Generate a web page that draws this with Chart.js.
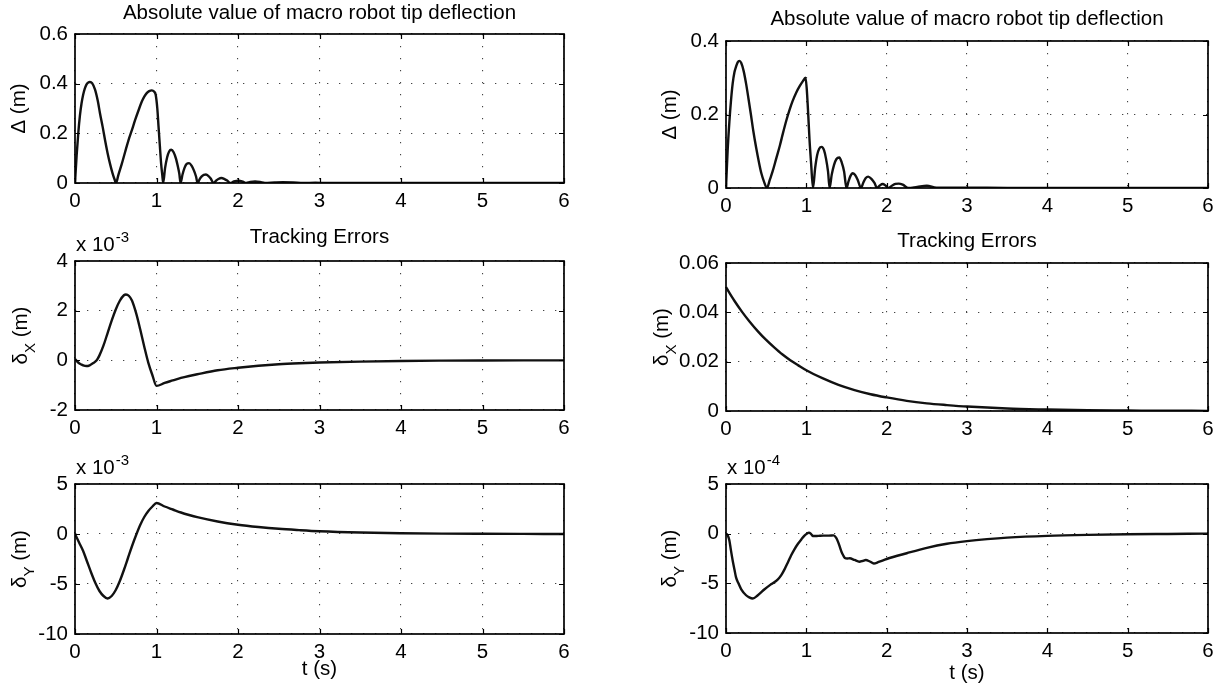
<!DOCTYPE html>
<html>
<head>
<meta charset="utf-8">
<script src="https://cdn.jsdelivr.net/npm/chart.js@4.4.1/dist/chart.umd.min.js"></script>
<style>
  body { margin: 0; background: #fff; width: 1227px; height: 693px; overflow: hidden; position: relative; }
  canvas { position: absolute; }
</style>
</head>
<body>
<canvas id="p1"></canvas>
<canvas id="p2"></canvas>
<canvas id="p3"></canvas>
<canvas id="p4"></canvas>
<canvas id="p5"></canvas>
<canvas id="p6"></canvas>
<script>
// ---- data (time in s, values in m) ----
const xTicks = [0, 1, 2, 3, 4, 5, 6];

// left column, top: |deflection|
const tDeflL = [0, 0.02, 0.04, 0.06, 0.08, 0.1, 0.12, 0.14, 0.16, 0.184, 0.21, 0.246, 0.28, 0.307, 0.34, 0.369, 0.4, 0.43, 0.46, 0.485, 0.504,
  0.53, 0.574, 0.615, 0.656, 0.7, 0.738, 0.78, 0.82, 0.85, 0.88, 0.91, 0.943, 0.97, 0.99, 1.01, 1.025, 1.04, 1.057, 1.07, 1.082,
  1.105, 1.13, 1.155, 1.18, 1.21, 1.24, 1.265, 1.28, 1.295,
  1.32, 1.345, 1.37, 1.4, 1.43, 1.46, 1.485, 1.504,
  1.53, 1.555, 1.58, 1.607, 1.635, 1.665, 1.7,
  1.73, 1.76, 1.795, 1.83, 1.87, 1.906,
  1.95, 2.01, 2.06, 2.1, 2.15, 2.21, 2.27, 2.33,
  2.45, 2.55, 2.68, 2.8, 2.95, 3.1, 3.5, 4, 5, 6];
const deflL = [0, 0.11, 0.2, 0.27, 0.32, 0.355, 0.38, 0.396, 0.404, 0.407, 0.402, 0.376, 0.33, 0.28, 0.225, 0.172, 0.12, 0.077, 0.04, 0.015, 0,
  0.03, 0.077, 0.125, 0.172, 0.215, 0.254, 0.293, 0.328, 0.348, 0.362, 0.37, 0.373, 0.368, 0.355, 0.3, 0.227, 0.155, 0.077, 0.035, 0,
  0.06, 0.103, 0.127, 0.134, 0.124, 0.097, 0.062, 0.037, 0,
  0.035, 0.062, 0.077, 0.08, 0.07, 0.05, 0.026, 0,
  0.016, 0.027, 0.033, 0.034, 0.029, 0.018, 0,
  0.009, 0.016, 0.02, 0.017, 0.009, 0,
  0.006, 0.009, 0.005, 0, 0.004, 0.006, 0.004, 0,
  0.002, 0.003, 0.002, 0, 0.001, 0, 0.0005, 0, 0, 0];
const deflTicksL = [0, 0.2, 0.4, 0.6];

// left column, middle: x tracking error
const tDxL = [0, 0.05, 0.1, 0.14, 0.18, 0.22, 0.266, 0.3, 0.35, 0.4, 0.45, 0.5, 0.55, 0.6, 0.625, 0.66, 0.7, 0.75, 0.8, 0.85, 0.9, 0.95, 1.0,
  1.1, 1.2, 1.3, 1.4, 1.5, 1.75, 2.0, 2.25, 2.5, 2.75, 3.0, 3.5, 4.0, 4.5, 5.0, 5.5, 6.0];
const dxL = [0.05e-3, -0.12e-3, -0.2e-3, -0.23e-3, -0.2e-3, -0.12e-3, 0, 0.2e-3, 0.6e-3, 1.1e-3, 1.6e-3, 2.05e-3, 2.4e-3, 2.62e-3, 2.65e-3, 2.6e-3, 2.4e-3, 1.9e-3, 1.25e-3, 0.55e-3, -0.1e-3, -0.6e-3, -1.03e-3,
  -0.91e-3, -0.81e-3, -0.71e-3, -0.63e-3, -0.56e-3, -0.4e-3, -0.3e-3, -0.22e-3, -0.16e-3, -0.12e-3, -0.09e-3, -0.05e-3, -0.025e-3, -0.012e-3, -0.005e-3, -0.002e-3, 0];
const dxTicksL = [-2e-3, 0, 2e-3, 4e-3];

// left column, bottom: y tracking error
const tDyL = [0, 0.05, 0.1, 0.15, 0.2, 0.25, 0.3, 0.35, 0.4, 0.45, 0.5, 0.55, 0.6, 0.65, 0.7, 0.75, 0.8, 0.85, 0.9, 0.95, 1.0,
  1.1, 1.2, 1.3, 1.4, 1.5, 1.75, 2.0, 2.25, 2.5, 2.75, 3.0, 3.5, 4.0, 4.5, 5.0, 5.5, 6.0];
const dyL = [0, -0.85e-3, -1.7e-3, -2.8e-3, -3.9e-3, -4.9e-3, -5.7e-3, -6.2e-3, -6.45e-3, -6.2e-3, -5.6e-3, -4.7e-3, -3.6e-3, -2.4e-3, -1.2e-3, -0.1e-3, 0.9e-3, 1.7e-3, 2.3e-3, 2.75e-3, 3.1e-3,
  2.75e-3, 2.45e-3, 2.15e-3, 1.9e-3, 1.68e-3, 1.25e-3, 0.93e-3, 0.7e-3, 0.52e-3, 0.39e-3, 0.28e-3, 0.15e-3, 0.08e-3, 0.04e-3, 0.02e-3, 0.01e-3, 0];
const dyTicksL = [-10e-3, -5e-3, 0, 5e-3];

// right column, top: |deflection|
const tDeflR = [0, 0.02, 0.042, 0.063, 0.083, 0.105, 0.125, 0.145, 0.167, 0.19, 0.22, 0.25, 0.28, 0.31, 0.34, 0.375, 0.41, 0.44, 0.475, 0.51,
  0.545, 0.58, 0.625, 0.67, 0.71, 0.75, 0.79, 0.83, 0.875, 0.917, 0.955, 0.99, 1.005, 1.02, 1.04, 1.06, 1.083,
  1.11, 1.135, 1.16, 1.19, 1.22, 1.245, 1.27, 1.29,
  1.315, 1.345, 1.375, 1.41, 1.44, 1.47, 1.5,
  1.525, 1.55, 1.575, 1.605, 1.64, 1.68,
  1.71, 1.74, 1.77, 1.81, 1.85, 1.88,
  1.915, 1.95, 1.985, 2.02, 2.07, 2.11, 2.15, 2.2, 2.27,
  2.38, 2.5, 2.62, 2.75, 3, 3.5, 4, 5, 6];
const deflR = [0, 0.1, 0.18, 0.24, 0.284, 0.315, 0.33, 0.342, 0.346, 0.34, 0.318, 0.284, 0.243, 0.2, 0.155, 0.11, 0.07, 0.04, 0.016, 0,
  0.022, 0.045, 0.08, 0.115, 0.15, 0.183, 0.212, 0.237, 0.26, 0.277, 0.29, 0.3, 0.27, 0.215, 0.13, 0.065, 0,
  0.055, 0.09, 0.107, 0.112, 0.103, 0.08, 0.045, 0,
  0.035, 0.063, 0.079, 0.083, 0.07, 0.045, 0,
  0.018, 0.033, 0.04, 0.036, 0.022, 0,
  0.015, 0.027, 0.031, 0.025, 0.013, 0,
  0.007, 0.011, 0.007, 0, 0.007, 0.011, 0.012, 0.009, 0,
  0.003, 0.006, 0.001, 0.001, 0.001, 0, 0, 0, 0];
const deflTicksR = [0, 0.2, 0.4];

// right column, middle: x tracking error
const tDxR = [0, 0.1, 0.2, 0.3, 0.4, 0.5, 0.6, 0.7, 0.8, 0.9, 1.0, 1.2, 1.4, 1.6, 1.8, 2.0, 2.25, 2.5, 2.75, 3.0, 3.5, 4.0, 4.5, 5.0, 5.5, 6.0];
const dxR = [0.0502, 0.0449, 0.0402, 0.036, 0.0322, 0.0288, 0.0258, 0.023, 0.0206, 0.0185, 0.0165, 0.0133, 0.0106, 0.0085, 0.0068, 0.0055, 0.0041, 0.0031, 0.0024, 0.0018, 0.001, 0.0006, 0.0003, 0.0002, 0.0001, 0.00006];
const dxTicksR = [0, 0.02, 0.04, 0.06];

// right column, bottom: y tracking error
const tDyR = [0, 0.02, 0.042, 0.06, 0.083, 0.105, 0.125, 0.155, 0.19, 0.25, 0.29, 0.333, 0.396, 0.48, 0.56, 0.646, 0.69, 0.73, 0.77, 0.81, 0.85, 0.896, 0.94, 0.98, 1.01, 1.033, 1.06, 1.083,
  1.15, 1.21, 1.28, 1.34, 1.37, 1.396, 1.42, 1.44, 1.46, 1.48, 1.51, 1.54, 1.6, 1.66, 1.7, 1.74, 1.79, 1.84, 1.9, 2.0,
  2.25, 2.5, 2.75, 3.0, 3.25, 3.5, 4.0, 4.5, 5.0, 5.5, 6.0];
const dyR = [0, -0.15e-4, -0.68e-4, -1.6e-4, -2.7e-4, -3.6e-4, -4.4e-4, -5.0e-4, -5.6e-4, -6.2e-4, -6.42e-4, -6.53e-4, -6.2e-4, -5.6e-4, -5.1e-4, -4.6e-4, -4.15e-4, -3.57e-4, -2.9e-4, -2.2e-4, -1.6e-4, -1.02e-4, -0.55e-4, -0.17e-4, 0.02e-4, 0.1e-4, -0.05e-4, -0.24e-4,
  -0.22e-4, -0.2e-4, -0.2e-4, -0.17e-4, -0.4e-4, -0.85e-4, -1.4e-4, -1.87e-4, -2.2e-4, -2.45e-4, -2.5e-4, -2.48e-4, -2.65e-4, -2.82e-4, -2.75e-4, -2.65e-4, -2.8e-4, -3.0e-4, -2.85e-4, -2.55e-4,
  -1.97e-4, -1.43e-4, -1.02e-4, -0.75e-4, -0.55e-4, -0.4e-4, -0.22e-4, -0.12e-4, -0.06e-4, -0.03e-4, 0];
const dyTicksR = [-10e-4, -5e-4, 0, 5e-4];

// ---- layout: plot boxes in page pixels [left, top, right, bottom] ----
const panels = [
  { id: 'p1', t: tDeflL, v: deflL, yTicks: deflTicksL, unit: 1, box: [75, 34, 564, 183],
    title: 'Absolute value of macro robot tip deflection', titleY: 13, ylab: ['\u0394', '', ' (m)'], ylabX: 25 },
  { id: 'p2', t: tDxL, v: dxL, yTicks: dxTicksL, unit: 1e-3, expo: '-3', box: [75, 261, 564, 410],
    title: 'Tracking Errors', titleY: 237, ylab: ['\u03b4', 'X', ' (m)'], ylabX: 27 },
  { id: 'p3', t: tDyL, v: dyL, yTicks: dyTicksL, unit: 1e-3, expo: '-3', box: [75, 484, 564, 634],
    ylab: ['\u03b4', 'Y', ' (m)'], ylabX: 26, xlab: 'min', xlabY: 669 },
  { id: 'p4', t: tDeflR, v: deflR, yTicks: deflTicksR, unit: 1, box: [726, 41, 1208, 188],
    title: 'Absolute value of macro robot tip deflection', titleY: 19, ylab: ['\u0394', '', ' (m)'], ylabX: 676 },
  { id: 'p5', t: tDxR, v: dxR, yTicks: dxTicksR, unit: 1, box: [726, 263, 1208, 411],
    title: 'Tracking Errors', titleY: 241, ylab: ['\u03b4', 'X', ' (m)'], ylabX: 668 },
  { id: 'p6', t: tDyR, v: dyR, yTicks: dyTicksR, unit: 1e-4, expo: '-4', box: [726, 484, 1208, 633],
    ylab: ['\u03b4', 'Y', ' (m)'], ylabX: 676, xlab: 'min', xlabY: 673 }
];

const FONT = '"Liberation Sans", Arial, Helvetica, sans-serif';
const FS = 20.5;
const INK = '#000';
const PAD_L = 80, PAD_T = 45, PAD_R = 20, XAX_H = 32;

function fmt(v) { return String(+v.toFixed(3)); }

function framePlugin(p, cx, cy) {
  return {
    id: 'frame' + p.id,
    afterDatasetsDraw(chart) {
      const { ctx, chartArea: a, scales: { x, y } } = chart;
      ctx.save();
      ctx.strokeStyle = INK;
      ctx.lineWidth = 1.2;
      ctx.beginPath();
      x.ticks.forEach(tk => {
        const px = Math.round(x.getPixelForValue(tk.value)) + 0.5;
        ctx.moveTo(px, a.bottom); ctx.lineTo(px, a.bottom - 5);
        ctx.moveTo(px, a.top); ctx.lineTo(px, a.top + 5);
      });
      y.ticks.forEach(tk => {
        const py = Math.round(y.getPixelForValue(tk.value)) + 0.5;
        ctx.moveTo(a.left, py); ctx.lineTo(a.left + 5, py);
        ctx.moveTo(a.right, py); ctx.lineTo(a.right - 5, py);
      });
      ctx.stroke();
      ctx.lineWidth = 1.7;
      ctx.strokeRect(a.left, a.top, a.right - a.left, a.bottom - a.top);
      ctx.restore();
    },
    afterDraw(chart) {
      const { ctx } = chart;
      const [L, T, R, B] = p.box;
      const big = FS + 'px ' + FONT, small = '15px ' + FONT;
      ctx.save();
      ctx.fillStyle = INK;
      ctx.font = big;
      if (p.title) {
        ctx.textAlign = 'center'; ctx.textBaseline = 'middle';
        ctx.fillText(p.title, (L + R) / 2 - cx, p.titleY - cy);
      }
      if (p.expo) {
        ctx.textAlign = 'left'; ctx.textBaseline = 'alphabetic';
        const w = ctx.measureText('x 10').width;
        ctx.fillText('x 10', L + 1 - cx, T - 10 - cy);
        ctx.font = small;
        ctx.fillText(p.expo, L + 2 + w - cx, T - 19 - cy);
        ctx.font = big;
      }
      if (p.xlab) {
        ctx.textAlign = 'center'; ctx.textBaseline = 'middle';
        ctx.fillText('t (s)', (L + R) / 2 - cx, p.xlabY - cy);
      }
      // rotated y label with subscript
      const [a, s, b] = p.ylab;
      ctx.translate(p.ylabX - cx, (T + B) / 2 - cy);
      ctx.rotate(-Math.PI / 2);
      ctx.textAlign = 'left'; ctx.textBaseline = 'alphabetic';
      const wa = ctx.measureText(a).width, wb = ctx.measureText(b).width;
      ctx.font = small;
      const ws = s ? ctx.measureText(s).width : 0;
      const x0 = -(wa + ws + wb) / 2;
      if (s) ctx.fillText(s, x0 + wa, 8);
      ctx.font = big;
      ctx.fillText(a, x0, 0);
      ctx.fillText(b, x0 + wa + ws, 0);
      ctx.restore();
    }
  };
}

panels.forEach(p => {
  const [L, T, R, B] = p.box;
  const xh = p.xlab ? XAX_H + 30 : XAX_H;
  const cx = L - PAD_L, cy = T - PAD_T;
  const cv = document.getElementById(p.id);
  cv.width = R - L + PAD_L + PAD_R;
  cv.height = B - T + PAD_T + xh;
  cv.style.left = cx + 'px';
  cv.style.top = cy + 'px';

  const grid = { color: '#444', lineWidth: 1.1, drawTicks: false };
  const border = { display: false, dash: [1.3, 10.7] };
  const tickFont = { family: FONT, size: FS };

  new Chart(cv, {
    type: 'line',
    data: {
      datasets: [{
        data: p.t.map((t, i) => ({ x: t, y: p.v[i] })),
        borderColor: '#111',
        borderWidth: 2.4,
        pointRadius: 0,
        cubicInterpolationMode: 'monotone',
        fill: false
      }]
    },
    options: {
      responsive: false,
      animation: false,
      devicePixelRatio: 1,
      layout: { padding: { left: 0, top: PAD_T, right: PAD_R, bottom: 0 } },
      plugins: { legend: { display: false }, tooltip: { enabled: false }, title: { display: false } },
      scales: {
        x: {
          type: 'linear', min: 0, max: 6,
          grid: grid, border: border,
          afterBuildTicks: s => { s.ticks = xTicks.map(v => ({ value: v })); },
          afterFit: s => { s.height = xh; },
          ticks: { font: tickFont, color: INK, padding: 6, maxRotation: 0, callback: v => fmt(v) }
        },
        y: {
          type: 'linear',
          min: p.yTicks[0], max: p.yTicks[p.yTicks.length - 1],
          grid: grid, border: border,
          afterBuildTicks: s => { s.ticks = p.yTicks.map(v => ({ value: v })); },
          afterFit: s => { s.width = PAD_L; },
          ticks: { font: tickFont, color: INK, padding: 7, callback: v => fmt(v / p.unit) }
        }
      }
    },
    plugins: [framePlugin(p, cx, cy)]
  });
});
</script>
</body>
</html>
